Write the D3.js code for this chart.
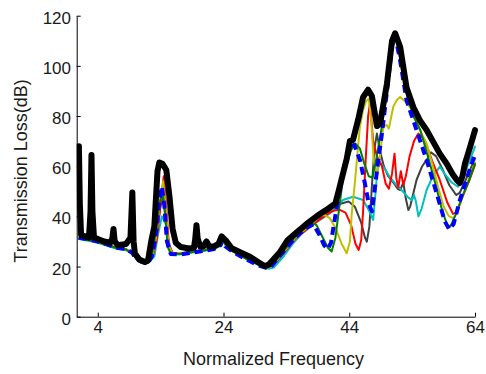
<!DOCTYPE html>
<html>
<head>
<meta charset="utf-8">
<script src="https://cdn.jsdelivr.net/npm/d3@7"></script>
<style>
  body { margin: 0; background: #fff; }
  svg text { font-family: "Liberation Sans", Arial, Helvetica, sans-serif; }
</style>
</head>
<body>
<svg id="chart" width="486" height="374"></svg>
<script>
// Tick labels
const xTicks = [4, 24, 44, 64];
const yTicks = [0, 20, 40, 60, 80, 100, 120];

// Transmission loss curves, [normalized frequency, dB]
const blackTL = [
  [1.0, 68], [1.15, 45], [1.35, 32.5], [2.0, 32], [2.6, 31.5], [2.85, 42], [3.0, 64.5], [3.15, 42],
  [3.4, 31.5], [4.0, 31], [5.0, 30], [6.0, 29.5], [6.3, 31], [6.5, 35], [6.7, 30], [7.2, 28.5],
  [8.5, 29], [9.2, 31.5], [9.5, 49.5], [9.7, 30], [9.9, 25.3], [10.6, 22.8], [11.5, 21.8], [12.0, 22.5],
  [12.5, 30], [13.0, 36], [13.5, 58], [13.8, 61.5], [14.3, 61], [14.9, 58.5], [15.4, 48], [15.9, 35],
  [16.4, 29.5], [17.2, 27.8], [18.5, 27.2], [19.3, 27.5], [19.5, 31], [19.7, 36.5], [19.9, 31], [20.3, 28],
  [20.8, 28], [21.3, 30], [21.7, 28], [22.5, 28], [23.2, 29], [23.7, 32], [24.5, 30], [25.3, 27.3],
  [26.8, 25.5], [28.2, 23.9], [29.5, 21.8], [30.6, 20.1], [31.2, 20.8], [32.0, 23], [33.0, 25.8], [34.2, 30.5],
  [35.1, 32.5], [36.2, 34.8], [37.2, 37], [38.8, 40], [40.3, 42.5], [41.8, 45.2], [42.3, 50], [43.0, 57],
  [43.6, 63], [44.1, 70], [44.6, 70.5], [45.4, 78.4], [46.2, 87.5], [47.0, 90.5], [47.6, 88], [48.4, 76],
  [48.9, 77], [50.0, 93], [50.8, 110], [51.3, 113], [52.1, 107.5], [53.1, 91.5], [54.2, 83.5], [55.3, 78],
  [56.3, 74.4], [57.4, 69.5], [58.4, 65], [59.5, 61], [60.4, 57], [61.1, 54.5], [61.6, 53.3], [62.0, 56],
  [62.4, 61], [63.2, 67.5], [64.0, 74.4]
];

const blueTL = [
  [1.0, 31.5], [2.5, 30.8], [4, 30], [5.5, 28.8], [7, 27.5], [8.5, 27], [9.5, 25.5], [10, 23.2],
  [11, 21.8], [12, 21.5], [12.6, 24], [13.2, 32], [13.8, 46], [14.2, 52], [14.6, 44], [15.0, 30],
  [15.6, 25], [17, 24.8], [19, 25.5], [21, 26.3], [22.5, 27], [23.5, 28.5], [23.8, 30.5], [24.3, 28],
  [25.5, 25.8], [27.5, 23], [29.5, 20.5], [30.8, 19.5], [31.5, 19.8], [33.2, 25], [35.2, 31], [37.0, 35.2],
  [38.3, 36.8], [39.3, 32.5], [40.0, 28.5], [40.6, 27], [41.1, 29.5], [41.5, 35.9], [42.3, 48], [43.2, 60],
  [44.0, 66.5], [44.8, 68.5], [45.7, 62.5], [46.5, 53], [47.1, 45], [47.6, 42], [48.1, 51.8], [48.6, 62],
  [49.2, 73], [50.1, 92], [50.8, 108], [51.3, 112], [52.1, 102], [53.1, 86.4], [54.7, 74.4], [56.3, 62.5],
  [57.9, 49.2], [59.2, 38], [59.9, 34.8], [60.6, 37], [61.6, 46.5], [62.8, 56], [64, 65]
];

const greenTL = [
  [1.0, 31.2], [2.5, 30.6], [4, 29.8], [5.5, 28.6], [7, 27.4], [8.5, 26.8], [9.6, 25], [10.2, 23],
  [11, 21.8], [12, 21.6], [12.6, 24.5], [13.2, 33], [13.8, 45], [14.3, 50], [14.7, 42], [15.1, 28],
  [15.6, 25.2], [17, 25], [19, 25.8], [21, 26.5], [22.5, 27.2], [23.5, 28.6], [23.9, 30.8], [24.4, 28.2],
  [25.5, 26], [27.5, 23.2], [29.5, 20.8], [30.8, 19.8], [31.6, 20.2], [33.3, 25.5], [35.3, 31.5], [37.0, 35.8],
  [38.0, 37.5], [38.8, 36.5], [39.8, 31.5], [40.6, 27.5], [41.2, 26], [41.8, 31.5], [42.3, 41.3], [43.0, 55],
  [43.6, 61], [44.3, 66.5], [45.0, 69], [45.7, 67], [46.4, 61], [47.1, 56], [47.7, 55.5], [48.3, 63],
  [49.1, 74.5], [50.1, 92], [50.8, 107], [51.3, 111.5], [52.1, 104], [53.2, 88], [54.2, 80], [55.3, 74.4],
  [56.5, 64], [57.7, 53], [58.8, 42], [59.6, 36.5], [60.1, 36], [60.9, 40.5], [62.0, 48], [63.0, 54], [64, 61]
];

const redTL = [
  [1.0, 31.4], [2.5, 30.7], [4, 29.9], [5.5, 28.7], [7, 27.5], [8.5, 26.9], [9.6, 25.2], [10.2, 23.1],
  [11, 21.9], [12, 21.8], [12.8, 24.5], [13.4, 31], [14.0, 45], [14.5, 56], [14.9, 44], [15.3, 29],
  [15.9, 25.4], [17, 25.2], [19, 26], [21, 26.7], [22.5, 27.3], [23.6, 28.8], [24.0, 30.6], [24.5, 28.3],
  [25.6, 26.1], [27.6, 23.4], [29.6, 21], [30.9, 19.8], [31.7, 20.1], [33.5, 25.3], [35.5, 31.2], [37.5, 35.5],
  [39.3, 38.8], [40.7, 41.2], [41.6, 42.3], [42.5, 42.6], [43.4, 41.5], [44.3, 36.5], [45.0, 29], [45.5, 26.6],
  [45.9, 30.5], [46.2, 42], [46.6, 62], [47.0, 80], [47.3, 85], [47.8, 70], [48.4, 64], [49.2, 60],
  [49.8, 53], [50.3, 51], [50.8, 57], [51.2, 65], [51.5, 55], [51.8, 51.5], [52.2, 58], [52.6, 52.5],
  [53.0, 56], [53.6, 64], [54.3, 70], [55.0, 73], [56.0, 70.5], [57.2, 62], [58.4, 54.5], [59.6, 45.5],
  [60.5, 41], [61.1, 41.5], [62.2, 49], [63.2, 55], [64, 60.5]
];

const yellowTL = [
  [1.0, 31.3], [2.5, 30.6], [4, 29.8], [5.5, 28.6], [7, 27.4], [8.5, 26.8], [9.6, 25.1], [10.2, 23],
  [11, 21.8], [12, 21.7], [12.7, 24.5], [13.3, 32], [13.9, 46], [14.4, 54], [14.8, 44], [15.2, 29],
  [15.8, 25.3], [17, 25.1], [19, 25.9], [21, 26.6], [22.5, 27.2], [23.6, 28.7], [24.0, 30.6], [24.5, 28.2],
  [25.6, 26], [27.6, 23.3], [29.6, 20.9], [30.9, 19.7], [31.7, 20], [33.4, 25.4], [35.4, 31.3], [37.3, 35.7],
  [38.7, 38.6], [39.4, 40.2], [40.1, 40.5], [40.9, 39.3], [41.8, 35.5], [42.8, 29], [43.6, 25.3], [44.1, 30],
  [44.4, 41.2], [44.9, 53.5], [45.4, 67.8], [45.7, 75.8], [46.2, 82.4], [46.7, 86], [47.1, 87], [47.5, 78],
  [47.9, 62], [48.4, 56], [48.8, 62], [49.4, 75.5], [49.9, 76.5], [50.3, 75], [51.0, 83.7], [51.6, 86.5],
  [52.1, 87.6], [52.8, 86], [53.7, 83.5], [54.8, 77], [55.5, 73], [56.3, 69], [57.2, 61], [58.1, 52],
  [59.0, 44], [59.8, 40.2], [60.6, 39.2], [61.6, 45], [62.8, 53.5], [64, 61.5]
];

const grayTL = [
  [1.0, 31.3], [2.5, 30.6], [4, 29.8], [5.5, 28.6], [7, 27.4], [8.5, 26.8], [9.6, 25], [10.2, 23],
  [11, 21.8], [12, 21.6], [12.7, 24.5], [13.3, 32], [13.9, 43], [14.3, 48], [14.7, 41], [15.2, 28],
  [15.8, 25.2], [17, 25], [19, 25.8], [21, 26.5], [22.5, 27.1], [23.6, 28.6], [24.0, 30.5], [24.5, 28.1],
  [25.6, 25.9], [27.7, 23.2], [29.7, 20.7], [31.0, 19.5], [31.8, 19.9], [33.5, 25], [35.4, 30.8], [37.2, 35.6],
  [39.2, 39.2], [41.0, 42.3], [42.6, 45], [43.9, 45.9], [44.9, 43.8], [45.9, 37.5], [46.5, 31.5], [46.8, 29.9],
  [47.2, 36], [47.6, 52], [48.0, 67], [48.4, 73], [48.9, 66], [49.5, 60], [50.2, 56], [51.0, 53.5],
  [51.7, 51], [52.1, 50.5], [52.6, 53.5], [53.0, 47], [53.4, 42.5], [53.7, 44], [54.7, 54.5], [55.6, 60],
  [56.3, 62.5], [57.0, 65.5], [57.8, 64], [58.8, 59], [59.9, 52.5], [61.0, 48.5], [61.6, 49.5], [62.6, 55], [64, 63]
];

const cyanTL = [
  [1.0, 31], [2.5, 30.3], [4, 29.5], [5.5, 28.3], [7, 27.1], [8.5, 26.5], [9.6, 24.8], [10.2, 22.8],
  [11, 21.5], [12, 21.4], [13.0, 24], [13.6, 33], [14.2, 40], [14.8, 37], [15.3, 30], [15.8, 25],
  [17, 24.8], [19, 25.6], [21, 26.3], [22.5, 27], [23.7, 28.4], [24.1, 30.3], [24.6, 28], [25.7, 25.8],
  [27.8, 23], [29.8, 20.4], [31.2, 19.1], [32.0, 19.6], [33.6, 24.2], [35.0, 29], [36.5, 33.2], [38.7, 37.5],
  [40.9, 41.2], [43.0, 46.5], [44.6, 47.8], [46.2, 46.5], [47.2, 42], [47.8, 38.6], [48.2, 50], [48.6, 62.5],
  [49.5, 59.5], [50.5, 55.5], [51.5, 52.5], [52.5, 50], [53.4, 47.5], [54.0, 46.5], [54.3, 48.5], [54.6, 46],
  [55.0, 40], [55.5, 43], [56.3, 50.5], [57.3, 56], [58.4, 59.8], [59.3, 56.5], [60.3, 53.5], [61.3, 51.8],
  [62.5, 58], [64, 67.8]
];

(function () {
  // drawing order: bottom first, heavy black envelope last
  const series = [
    { data: grayTL,   color: '#404040', width: 2 },
    { data: cyanTL,   color: '#00BFBF', width: 2 },
    { data: redTL,    color: '#FF0000', width: 2 },
    { data: yellowTL, color: '#BFBF00', width: 2 },
    { data: greenTL,  color: '#008000', width: 2 },
    { data: blueTL,   color: '#0000FF', width: 4, dash: '8,5' },
    { data: blackTL,  color: '#000000', width: 6 }
  ];

  const svg = d3.select('#chart');
  const mLeft = 76.7, mRight = 475, mTop = 15.7, mBottom = 316.7;

  const x = d3.scaleLinear().domain([0.65, 64]).range([mLeft, mRight]);
  const y = d3.scaleLinear().domain([0, 120]).range([mBottom, mTop]);

  svg.append('clipPath').attr('id', 'plot-clip')
    .append('rect')
    .attr('x', mLeft).attr('y', 5)
    .attr('width', mRight - mLeft + 4).attr('height', mBottom - 5);

  const line = d3.line()
    .x(d => x(d[0]))
    .y(d => y(d[1]));

  const lines = svg.append('g').attr('clip-path', 'url(#plot-clip)');
  series.forEach(s => {
    lines.append('path')
      .datum(s.data)
      .attr('d', line)
      .attr('fill', 'none')
      .attr('stroke', s.color)
      .attr('stroke-width', s.width)
      .attr('stroke-linejoin', 'round')
      .attr('stroke-linecap', s.dash ? 'butt' : 'round')
      .attr('stroke-dasharray', s.dash || null);
  });

  // axes (MATLAB style: ticks pointing inwards, no box)
  const xAxis = svg.append('g')
    .attr('transform', `translate(0,${mBottom})`)
    .call(d3.axisBottom(x).tickValues(xTicks).tickSizeInner(-4).tickSizeOuter(0).tickPadding(4.5));
  const yAxis = svg.append('g')
    .attr('transform', `translate(${mLeft},0)`)
    .call(d3.axisLeft(y).tickValues(yTicks).tickSizeInner(-4).tickSizeOuter(0).tickPadding(5.7));

  [xAxis, yAxis].forEach(g => {
    g.attr('font-size', 17).attr('font-family', null);
    g.selectAll('path, line').attr('stroke', '#000');
    g.selectAll('text').attr('fill', '#1a1a1a');
  });
  yAxis.selectAll('text').attr('dy', '0.44em');

  svg.append('text')
    .attr('x', 273.5).attr('y', 365)
    .attr('text-anchor', 'middle')
    .attr('font-size', 18)
    .attr('fill', '#1a1a1a')
    .text('Normalized Frequency');

  svg.append('text')
    .attr('transform', 'translate(26.5,171) rotate(-90)')
    .attr('text-anchor', 'middle')
    .attr('font-size', 18)
    .attr('fill', '#1a1a1a')
    .text('Transmission Loss(dB)');
})();
</script>
</body>
</html>
